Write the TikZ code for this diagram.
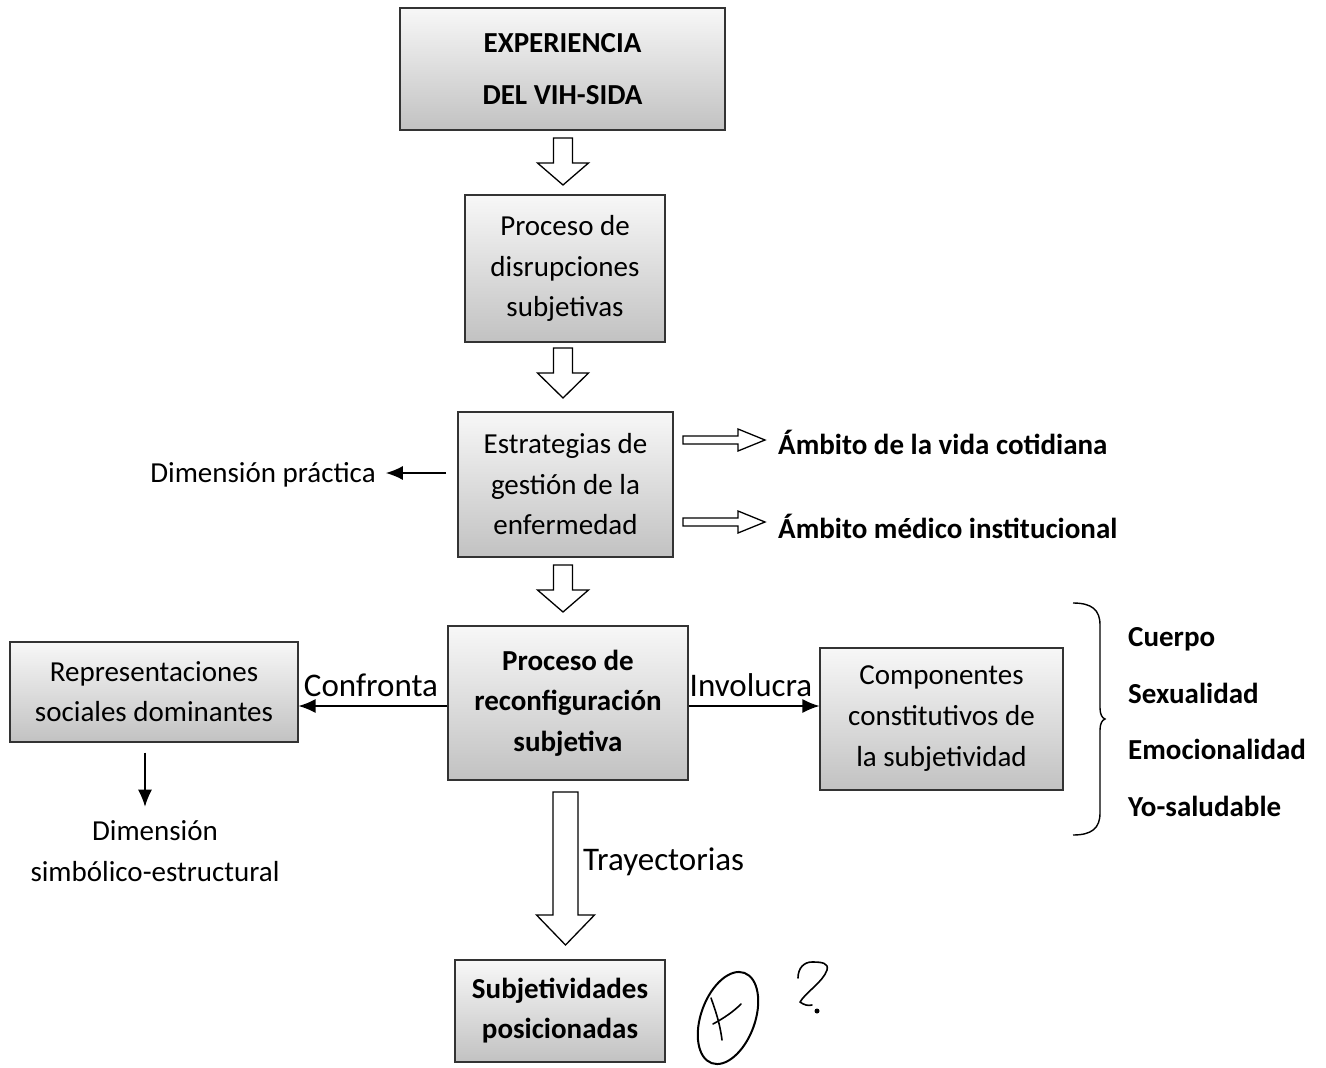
\documentclass[tikz,border=0pt]{standalone}
\usepackage{fontspec}
\setmainfont{Carlito}
\usetikzlibrary{arrows.meta,calc}
\newcommand\vblock[6]{% cx, ytop, ybase, ytip, half shaft, half head
  \draw[blk] (#1-#5,#2) -- (#1+#5,#2) -- (#1+#5,#3) -- (#1+#6,#3) -- (#1,#4) -- (#1-#6,#3) -- (#1-#5,#3) -- cycle;}
\newcommand\hblock[6]{% cy, xstart, xbase, xtip, half shaft, half head
  \draw[blk] (#2,#1-#5) -- (#3,#1-#5) -- (#3,#1-#6) -- (#4,#1) -- (#3,#1+#6) -- (#3,#1+#5) -- (#2,#1+#5) -- cycle;}
\begin{document}
\begin{tikzpicture}[x=1pt,y=-1pt,
  box/.style={draw=black!80, line width=1.1pt, top color=gray!6, bottom color=gray!48,
    align=center, inner sep=0pt, font=\fontsize{29}{40.5}\selectfont},
  lbl/.style={inner sep=0pt, font=\fontsize{29}{40.5}\selectfont},
  biglbl/.style={inner sep=0pt, font=\fontsize{33}{40.5}\selectfont},
  blbl/.style={inner sep=0pt, font=\fontsize{29}{40.5}\selectfont\bfseries},
  blk/.style={draw=black, line width=1.3pt, fill=white, line join=miter},
  thinarrow/.style={line width=1.4pt, -{Latex[length=17pt,width=14pt]}},
  hand/.style={line width=2pt, line cap=round, line join=round}]
\useasboundingbox[fill=white] (0,0) rectangle (1326,1068);

% boxes
\node[box, minimum width=325, minimum height=122, font=\fontsize{29}{52}\selectfont\bfseries] (exp) at (562.5,69) {EXPERIENCIA\\DEL VIH-SIDA};
\node[box, minimum width=200, minimum height=147] (disr) at (565,268.5) {Proceso de\\disrupciones\\subjetivas};
\node[box, minimum width=215, minimum height=145] (estr) at (565.5,484.5) {Estrategias de\\gestión de la\\enfermedad};
\node[box, minimum width=240, minimum height=154, font=\fontsize{29}{40.5}\selectfont\bfseries] (reconf) at (568,703) {Proceso de\\reconfiguración\\subjetiva};
\node[box, minimum width=288, minimum height=100, font=\fontsize{29}{40}\selectfont] (rep) at (154,692) {Representaciones\\sociales dominantes};
\node[box, minimum width=243, minimum height=142, font=\fontsize{29}{41}\selectfont] (comp) at (941.5,719) {Componentes\\constitutivos de\\la subjetividad};
\node[box, minimum width=210, minimum height=102, font=\fontsize{29}{40}\selectfont\bfseries] (sub) at (560,1011) {Subjetividades\\posicionadas};

% labels
\node[lbl] (dp) at (263,475) {Dimensión práctica};
\node[blbl, anchor=west] (amb1) at (778,442) {Ámbito de la vida cotidiana};
\node[blbl, anchor=west] (amb2) at (778,526) {Ámbito médico institucional};
\node[biglbl] (conf) at (371,685) {Confronta};
\node[biglbl] (invol) at (751,685) {Involucra};
\node[biglbl, anchor=west] (tray) at (583,862) {Trayectorias};
\node[lbl] (dim1) at (155,831) {Dimensión};
\node[lbl] (dim2) at (155,872) {simbólico-estructural};
\node[blbl, anchor=west] (c1) at (1128,639) {Cuerpo};
\node[blbl, anchor=west] (c2) at (1128,693) {Sexualidad};
\node[blbl, anchor=west] (c3) at (1128,749) {Emocionalidad};
\node[blbl, anchor=west] (c4) at (1128,806) {Yo-saludable};

% block arrows
\vblock{563}{138}{163}{185}{9.5}{25.5}
\vblock{563}{348}{373}{398}{9.5}{25.5}
\vblock{563}{565}{590}{612}{9.5}{25.5}
\vblock{565.5}{792}{915}{945}{12.5}{29}
\hblock{440}{683}{738}{765}{4}{11}
\hblock{522}{683}{738}{765}{4}{11}

% thin arrows
\coordinate (dpstart) at (446,473);
\draw[thinarrow, shorten >=10pt] (dpstart) -- (dp.east |- dpstart);
\draw[thinarrow] ([yshift=-3pt]reconf.west) -- ([yshift=-3pt]rep.east |- reconf.west);
\draw[thinarrow] ([yshift=-3pt]reconf.east) -- ([yshift=-3pt]comp.west |- reconf.east);
\draw[thinarrow] ([xshift=-9pt,yshift=-10pt]rep.south) -- ([xshift=-10pt,yshift=14pt]dim1.north);

% brace
\draw[line width=1.4pt] (1073,603) .. controls (1092,603) and (1100,610) .. (1100,625)
  -- (1100,708) .. controls (1100,714) and (1102,718) .. (1105,719)
  .. controls (1102,720) and (1100,724) .. (1100,730)
  -- (1100,813) .. controls (1100,828) and (1092,835) .. (1073,835);

% handwritten annotations
\draw[hand] (728,1018) ellipse [x radius=27, y radius=48, rotate=-20];
\draw[hand, line width=1.6pt] (711,998) .. controls (716,1012) and (720,1024) .. (722,1040);
\draw[hand, line width=1.6pt] (713,1024) .. controls (724,1018) and (733,1012) .. (741,1004);
\draw[hand, line width=1.6pt] (798,978) .. controls (798,968) and (804,962) .. (812,962)
  .. controls (822,962) and (829,963) .. (827,970)
  .. controls (823,982) and (806,992) .. (800,1002)
  .. controls (804,1005) and (808,1006) .. (812,1005);
\fill (817,1011) circle (2.5);
\end{tikzpicture}
\end{document}
